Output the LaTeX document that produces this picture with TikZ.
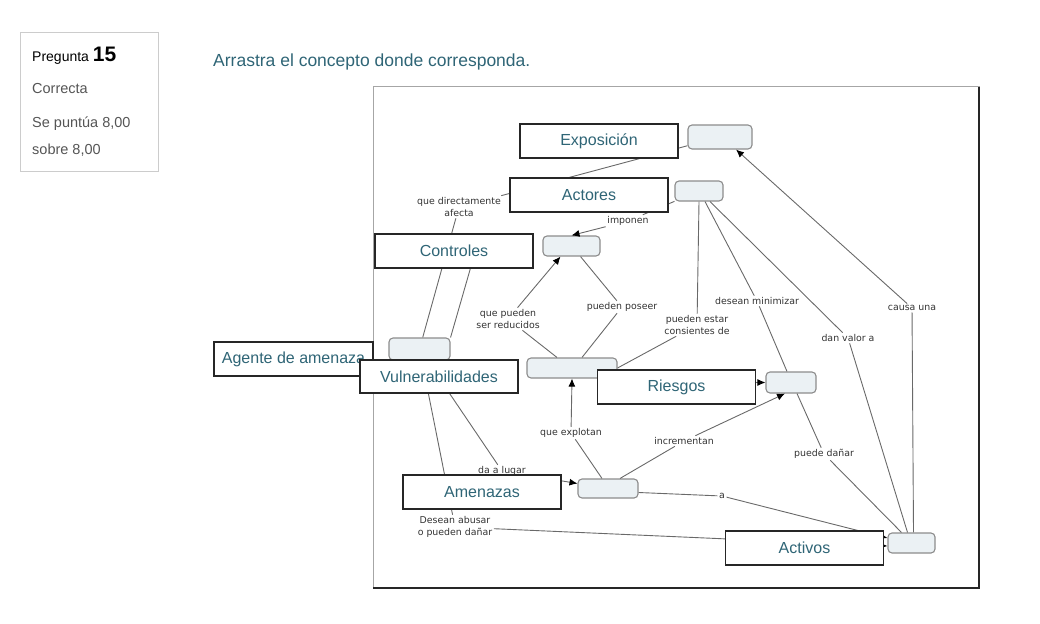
\documentclass[tikz,border=0pt]{standalone}
\usepackage{fontspec}
\setmainfont{Liberation Sans}
\newfontfamily\linkfont{DejaVu Sans}
\usetikzlibrary{shapes,arrows.meta}
\definecolor{conceptblue}{RGB}{47,101,118}
\definecolor{tgtfill}{RGB}{235,241,244}
\definecolor{linegray}{RGB}{105,105,105}
\definecolor{cardgray}{RGB}{85,85,85}

\begin{document}
\begin{tikzpicture}[x=1pt,y=-1pt,
  tgt/.style={draw=black!45, line width=1.1pt, fill=tgtfill, rounded corners=4pt, inner sep=0pt},
  lbl/.style={draw=black!85, line width=1.2pt, fill=white, text=conceptblue,
    minimum width=158pt, minimum height=34pt, inner sep=0pt, font=\fontsize{16}{19}\selectfont},
  word/.style={text=black!80, align=center, inner sep=1.5pt, font=\linkfont\fontsize{9.4}{12}\selectfont},
  lnk/.style={draw=linegray, line width=0.9pt},
  arr/.style={lnk, -{Latex[length=8pt,width=7pt,black]}},
]
\useasboundingbox (0,0) rectangle (1040,623);

% question card
\draw[black!20, line width=1pt] (20,33) rectangle (158,171);
\node[anchor=base west, inner sep=0pt] (qnum) at (32,62)
  {\fontsize{14}{16}\selectfont Pregunta \fontsize{21}{24}\selectfont\bfseries 15};
\node[anchor=base west, inner sep=0pt, text=cardgray, font=\fontsize{14.5}{17}\selectfont] (qstate) at (32,94) {Correcta};
\node[anchor=base west, inner sep=0pt, text=cardgray, font=\fontsize{14.5}{17}\selectfont] (qscore) at (32,128) {Se puntúa 8,00};
\node[anchor=base west, inner sep=0pt, text=cardgray, font=\fontsize{14.5}{17}\selectfont] (qmax) at (32,154) {sobre 8,00};

% title
\node[anchor=west, inner sep=0pt, text=conceptblue, font=\fontsize{17.5}{20}\selectfont] (title) at (213,62)
  {Arrastra el concepto donde corresponda.};

% frame of the map
\draw[black!35, line width=1pt] (373,87) rectangle (979,588);
\draw[black!85, line width=1.5pt] (373,588) -- (979,588) -- (979,87);

% empty concepts
\node[tgt, minimum width=64pt, minimum height=24pt] (E1) at (720,137) {};
\node[tgt, minimum width=48pt, minimum height=20pt] (A1) at (699,191) {};
\node[tgt, minimum width=57pt, minimum height=20pt] (C1) at (571.5,246) {};
\node[tgt, minimum width=61pt, minimum height=22pt] (V1) at (419.5,349) {};
\node[tgt, minimum width=90pt, minimum height=20pt] (M1) at (572,368) {};
\node[tgt, minimum width=50pt, minimum height=21pt] (R1) at (791,382.5) {};
\node[tgt, minimum width=60pt, minimum height=19pt] (T1) at (608,488.5) {};
\node[tgt, minimum width=47pt, minimum height=20pt] (Act1) at (911.5,543) {};

% linking phrases
\node[word] (qda) at (459,207) {que directamente\\afecta};
\node[word] (imponen) at (628,221) {imponen};
\node[word] (qpsr) at (508,319) {que pueden\\ser reducidos};
\node[word] (pp) at (622,307) {pueden poseer};
\node[word] (pec) at (697,325) {pueden estar\\consientes de};
\node[word] (dm) at (757,301) {desean minimizar};
\node[word] (dv) at (848,338) {dan valor a};
\node[word] (cu) at (912,308) {causa una};
\node[word] (qe) at (571,433) {que explotan};
\node[word] (inc) at (684,441) {incrementan};
\node[word] (pd) at (824,454) {puede dañar};
\node[word] (dal) at (502,471) {da a lugar};
\node[word] (alink) at (722,496) {a};
\node[word] (dap) at (455,527) {Desean abusar\\o pueden dañar};

\coordinate (ctl) at (478,242);
\coordinate (riehid) at (745,382.5);

% connectors
\draw[lnk] (V1) -- (qda);
\draw[lnk] (qda) -- (E1);
\draw[lnk] (V1.north east) -- (ctl);
\draw[lnk] (A1) -- (imponen);
\draw[arr] (imponen) -- (C1.north);
\draw[lnk] ([xshift=-15]M1.north) -- (qpsr);
\draw[arr] (qpsr) -- ([xshift=-11]C1.south);
\draw[lnk] ([xshift=9]C1.south) -- (pp);
\draw[lnk] (pp) -- ([xshift=10]M1.north);
\draw[lnk] (M1.east) -- (pec);
\draw[lnk] (pec) -- (A1.south);
\draw[lnk] ([xshift=6]A1.south) -- (dm);
\draw[lnk] (dm) -- ([xshift=-4]R1.north);
\draw[lnk] ([xshift=11]A1.south) -- (dv);
\draw[lnk] (dv) -- ([xshift=-4]Act1.north);
\draw[lnk] ([xshift=2]Act1.north) -- (cu);
\draw[arr] (cu) -- ([xshift=16]E1.south);
\draw[lnk] ([xshift=6]R1.south) -- (pd);
\draw[lnk] (pd) -- ([xshift=-10]Act1.north);
\draw[arr] (riehid) -- (R1.west);
\draw[lnk] ([xshift=12]T1.north) -- (inc);
\draw[arr] (inc) -- ([xshift=-6]R1.south);
\draw[lnk] ([xshift=-6]T1.north) -- (qe);
\draw[arr] (qe) -- (M1.south);
\draw[lnk] ([yshift=-4]T1.east) -- (alink);
\draw[arr] (alink) -- ([yshift=5]Act1.west);
\draw[lnk] (V1) -- (dap);
\draw[arr] (dap) -- ([yshift=-3]Act1.west);
\draw[lnk] (V1) -- (dal);
\draw[arr] (dal) -- ([yshift=5]T1.west);

% dragged labels
\node[lbl] (expo) at (599,141) {Exposición};
\node[lbl] (actores) at (589,195) {Actores};
\node[lbl] (controles) at (454,251) {Controles};
\node[lbl, minimum width=159pt] (agente) at (293.5,359) {Agente de amenaza};
\node[lbl, minimum height=33pt] (vulne) at (439,376.5) {Vulnerabilidades};
\node[lbl] (riesgos) at (676.5,387) {Riesgos};
\node[lbl] (amenazas) at (482,492) {Amenazas};
\node[lbl] (activos) at (804.5,548) {Activos};
\end{tikzpicture}
\end{document}
